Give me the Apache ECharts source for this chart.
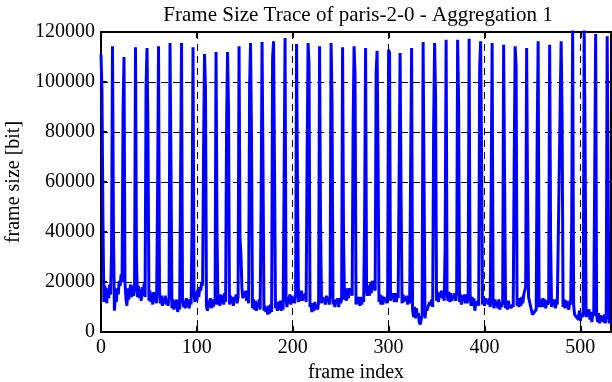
<!DOCTYPE html>
<html>
<head>
<meta charset="utf-8">
<script src="https://cdn.jsdelivr.net/npm/echarts@6/dist/echarts.min.js"></script>
<style>
html,body{margin:0;padding:0;background:#fff;}
#chart{width:612px;height:382px;}
</style>
</head>
<body>
<div id="chart"></div>
<script>
// Frame sizes [bit], frames 0..179
var framesA = [
  111000, 97000, 46000, 12000, 18500, 14000, 11500, 17500, 13500, 19000, 15000, 32000,
  114300, 40000, 8500, 14500, 12000, 17500, 15000, 20500, 18500, 23000, 20000, 88000,
  110000, 20000, 13500, 10500, 17500, 13000, 17000, 19000, 14000, 18500, 14500, 17500,
  113900, 29000, 14000, 18500, 13500, 17000, 12500, 18000, 14500, 19500, 14000, 97900,
  113600, 79000, 12500, 16500, 12000, 15500, 11000, 16000, 12000, 15000, 11500, 54000,
  114300, 16000, 11500, 14500, 10500, 13000, 12000, 14500, 11000, 12500, 10500, 14000,
  115600, 66300, 9500, 13000, 9000, 12500, 9500, 13000, 8000, 12000, 9000, 60500,
  115600, 12500, 10000, 12500, 9500, 13500, 10000, 13000, 9500, 12500, 11000, 42000,
  113900, 15000, 12000, 16000, 12500, 17000, 14000, 18000, 16500, 20000, 18500, 73600,
  111200, 97600, 10500, 8500, 12500, 10000, 13500, 9500, 13000, 10000, 12000, 11000,
  112000, 41000, 11000, 14500, 10500, 15000, 11500, 14500, 11000, 15500, 12000, 83000,
  112000, 89600, 11000, 14500, 11500, 14000, 10500, 14000, 13000, 15000, 11500, 14000,
  114300, 37600, 31000, 17500, 13500, 16000, 14000, 16500, 12500, 15000, 11500, 97900,
  115600, 77600, 9500, 13000, 9000, 12500, 8500, 11500, 10000, 13000, 9000, 48900,
  116000, 65600, 8500, 10500, 8000, 10000, 7000, 10500, 7500, 11000, 8000, 109600
];
// frames 180..359
var framesB = [
  116300, 65600, 9500, 11500, 8500, 12000, 9000, 12500, 8500, 12000, 9000, 60300,
  117600, 13000, 10000, 14000, 11500, 15000, 11000, 14500, 12500, 14000, 11500, 15000,
  115200, 55000, 12000, 15500, 12500, 16500, 12500, 15000, 13500, 15500, 12000, 69900,
  115600, 107200, 10000, 11500, 8000, 11500, 8500, 12000, 9000, 10500, 9000, 12000,
  114300, 44300, 11500, 14000, 12500, 13500, 11000, 14500, 12500, 14000, 11000, 14500,
  115600, 92300, 11000, 12500, 10000, 13000, 11500, 13500, 10000, 13500, 11500, 13000,
  113900, 37000, 13000, 16500, 12500, 17500, 13500, 17500, 15500, 16500, 14500, 83000,
  114300, 102900, 11000, 12500, 11500, 14000, 10500, 14000, 11000, 13500, 12000, 46300,
  113600, 16000, 14500, 18500, 14500, 19500, 15500, 20500, 17000, 20500, 16500, 103600,
  112500, 69600, 12000, 15000, 11000, 14500, 11000, 14000, 12500, 13500, 11500, 15000,
  112900, 111600, 12500, 15000, 13500, 15500, 12000, 15500, 12000, 15000, 13500, 14000,
  111600, 55000, 11500, 15000, 12000, 14000, 13000, 14500, 11000, 14500, 11500, 66300,
  113600, 9000, 6000, 10000, 5500, 9500, 6500, 7500, 4000, 3000, 5000, 7000,
  116000, 59000, 5500, 10000, 8500, 10000, 9500, 12000, 10500, 13000, 10000, 83000,
  115600, 94300, 12500, 16000, 12000, 15500, 14000, 16500, 13500, 15500, 12500, 34300
];
// frames 360..531
var framesC = [
  116900, 15500, 12500, 16000, 12000, 15500, 12500, 14500, 13500, 15500, 12500, 15500,
  116900, 92900, 12000, 15000, 11000, 14500, 13000, 15000, 11500, 15000, 11500, 14500,
  117300, 15000, 10500, 14000, 10500, 13500, 8500, 12000, 11000, 12500, 10500, 105600,
  116300, 70300, 11000, 14000, 10500, 13500, 11500, 13000, 11000, 13500, 10000, 56900,
  115600, 12000, 9500, 13000, 10500, 12000, 9500, 13000, 9000, 12000, 10000, 11500,
  114900, 59600, 9500, 12000, 9000, 12500, 9500, 10500, 9500, 11000, 10000, 67000,
  114300, 106300, 10500, 13000, 10000, 13500, 10500, 14000, 11500, 15000, 15000, 18000,
  113600, 53000, 14000, 14000, 10500, 10500, 7000, 6500, 8000, 8500, 9000, 77600,
  116300, 10000, 9500, 13000, 10000, 13500, 10000, 13000, 9500, 12500, 11000, 12000,
  114900, 37000, 10000, 11500, 10500, 13000, 9500, 12000, 11000, 11000, 10500, 90900,
  116300, 85600, 10000, 13000, 9500, 12500, 11500, 12000, 9000, 12500, 11000, 44600,
  121000, 11000, 7000, 7500, 6000, 6500, 5000, 8500, 4500, 7500, 6000, 7000,
  121000, 74300, 6000, 6500, 5500, 9000, 5000, 8000, 4000, 7500, 6500, 6500,
  119200, 7000, 4000, 7500, 3500, 6500, 6000, 5000, 4000, 7000, 3500, 6000,
  118300, 60300, 3500, 4500
];
var xTicks = [0, 100, 200, 300, 400, 500];
var yTicks = [0, 20000, 40000, 60000, 80000, 100000, 120000];
var titleText = 'Frame Size Trace of paris-2-0 - Aggregation 1';
var xLabel = 'frame index';
var yLabel = 'frame size [bit]';

var sizes = framesA.concat(framesB, framesC);
var seriesData = sizes.map(function (v, i) { return [i, v]; });

var FONT = '"Liberation Serif", "DejaVu Serif", serif';
var black = '#000';
var dash = [7, 5];

var chart = echarts.init(document.getElementById('chart'), null, {renderer: 'canvas'});
chart.setOption({
  animation: false,
  backgroundColor: '#fff',
  title: {
    text: titleText,
    left: 353, top: 0, textAlign: 'center',
    textStyle: {fontFamily: FONT, fontSize: 21, fontWeight: 'normal', color: black}
  },
  grid: {left: 101, top: 32, width: 510, height: 300, containLabel: false, outerBoundsMode: 'none'},
  xAxis: [{
    type: 'value', min: 0, max: 532, interval: 100,
    name: xLabel, nameLocation: 'middle', nameGap: 29,
    nameTextStyle: {fontFamily: FONT, fontSize: 20, color: black},
    axisLine: {show: true, onZero: false, lineStyle: {color: black, width: 2}},
    axisTick: {show: true, inside: true, length: 6, lineStyle: {color: black, width: 2}},
    axisLabel: {
      fontFamily: FONT, fontSize: 20, color: black, margin: 6,
      showMaxLabel: false,
      formatter: function (v) { return xTicks.indexOf(v) >= 0 ? String(v) : ''; }
    },
    splitLine: {show: true, lineStyle: {color: black, width: 1, type: dash}}
  }, {
    type: 'value', min: 0, max: 532, interval: 100, position: 'top',
    axisLine: {show: true, onZero: false, lineStyle: {color: black, width: 2}},
    axisTick: {show: true, inside: true, length: 6, lineStyle: {color: black, width: 2}},
    axisLabel: {show: false},
    splitLine: {show: false}
  }],
  yAxis: [{
    type: 'value', min: 0, max: 120000, interval: 20000,
    name: yLabel, nameLocation: 'middle', nameGap: 76, nameRotate: 90,
    nameTextStyle: {fontFamily: FONT, fontSize: 20, color: black},
    axisLine: {show: true, onZero: false, lineStyle: {color: black, width: 2}},
    axisTick: {show: true, inside: true, length: 6, lineStyle: {color: black, width: 2}},
    axisLabel: {
      fontFamily: FONT, fontSize: 20, color: black, margin: 6,
      formatter: function (v) { return yTicks.indexOf(v) >= 0 ? String(v) : ''; }
    },
    splitLine: {show: true, lineStyle: {color: black, width: 1, type: dash}}
  }, {
    type: 'value', min: 0, max: 120000, interval: 20000, position: 'right',
    axisLine: {show: true, onZero: false, lineStyle: {color: black, width: 2}},
    axisTick: {show: true, inside: true, length: 6, lineStyle: {color: black, width: 2}},
    axisLabel: {show: false},
    splitLine: {show: false}
  }],
  series: [{
    type: 'line',
    xAxisIndex: 0, yAxisIndex: 0,
    data: seriesData,
    showSymbol: false,
    symbol: 'none',
    clip: true,
    lineStyle: {color: '#0000ff', width: 3},
    z: 1
  }]
});
</script>
</body>
</html>
